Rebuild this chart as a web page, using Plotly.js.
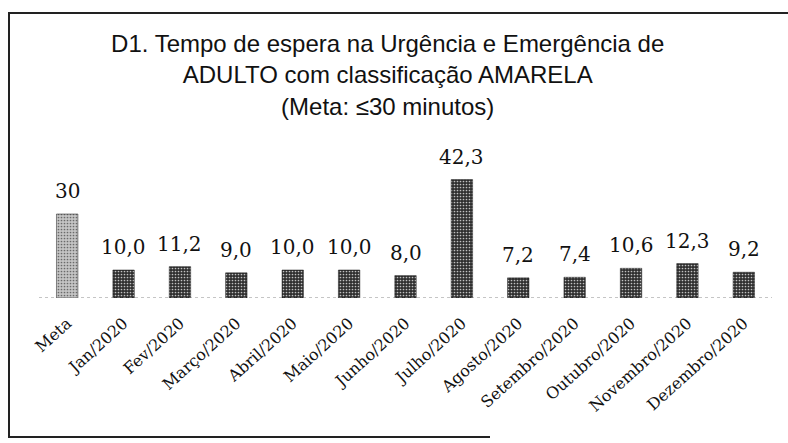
<!DOCTYPE html>
<html>
<head>
<meta charset="utf-8">
<script src="https://cdn.plot.ly/plotly-3.0.1.min.js"></script>
<style>
  body { margin: 0; background: #fff; }
  #wrap { position: relative; width: 788px; height: 443px; }
  #chart { width: 788px; height: 443px; }
  #frame {
    position: absolute; left: 8px; top: 12px; width: 790px; height: 424px;
    border-top: 2px solid #222; border-left: 2px solid #222;
    pointer-events: none;
  }
  #base {
    position: absolute; left: 8px; top: 436px; width: 482px; height: 0;
    border-top: 2px solid #222; pointer-events: none;
  }
</style>
</head>
<body>
<div id="wrap">
  <div id="chart"></div>
  <div id="frame"></div>
  <div id="base"></div>
</div>
<script>
var categorias = ['Meta', 'Jan/2020', 'Fev/2020', 'Março/2020', 'Abril/2020', 'Maio/2020', 'Junho/2020',
                  'Julho/2020', 'Agosto/2020', 'Setembro/2020', 'Outubro/2020', 'Novembro/2020', 'Dezembro/2020'];
var minutos = [30, 10.0, 11.2, 9.0, 10.0, 10.0, 8.0, 42.3, 7.2, 7.4, 10.6, 12.3, 9.2];
var rotulos = ['30', '10,0', '11,2', '9,0', '10,0', '10,0', '8,0', '42,3', '7,2', '7,4', '10,6', '12,3', '9,2'];

// meta em cinza claro, meses em cinza escuro (aspecto de impressão)
var cores = categorias.map(function(c) { return c === 'Meta' ? '#c4c4c4' : '#2f2f2f'; });
var coresPonto = categorias.map(function(c) { return c === 'Meta' ? '#9c9c9c' : '#6e6e6e'; });

var data = [{
    x: categorias,
    y: minutos,
    type: 'bar',
    width: 0.38,
    marker: {
        color: cores,
        line: { color: '#1e1e1e', width: 0.5 },
        pattern: { shape: '.', size: 3, solidity: 0.25, fgcolor: coresPonto, fgopacity: 0.7, fillmode: 'overlay' }
    },
    hoverinfo: 'skip'
}];

var anotacoes = categorias.map(function(c, i) {
    return {
        x: c, y: minutos[i], text: rotulos[i],
        xref: 'x', yref: 'y', showarrow: false,
        yanchor: 'bottom', yshift: 9,
        font: { family: 'DejaVu Serif', size: 20, color: '#111' }
    };
});

var layout = {
    width: 788,
    height: 443,
    title: {
        text: 'D1. Tempo de espera na Urgência e Emergência de<br>ADULTO com classificação AMARELA<br>(Meta: ≤30 minutos)',
        font: { family: 'Liberation Sans', size: 24, color: '#111' },
        x: 0.492, xanchor: 'center',
        y: 0.882, yanchor: 'middle'
    },
    margin: { l: 39, r: 16, t: 144, b: 145 },
    showlegend: false,
    xaxis: {
        type: 'category',
        range: [-0.5, 12.5],
        tickangle: -42,
        ticklabelstandoff: 12,
        tickfont: { family: 'DejaVu Serif', size: 16, color: '#111' },
        showgrid: false,
        showline: false,
        zeroline: false
    },
    yaxis: {
        range: [0, 55],
        visible: false
    },
    shapes: [{
        type: 'line', xref: 'paper', yref: 'y', x0: 0, x1: 1, y0: 0, y1: 0,
        line: { color: '#8a8a8a', width: 1, dash: 'dot' }
    }],
    annotations: anotacoes,
    plot_bgcolor: '#ffffff',
    paper_bgcolor: '#ffffff'
};

Plotly.newPlot('chart', data, layout, { displayModeBar: false, staticPlot: true });
</script>
</body>
</html>
